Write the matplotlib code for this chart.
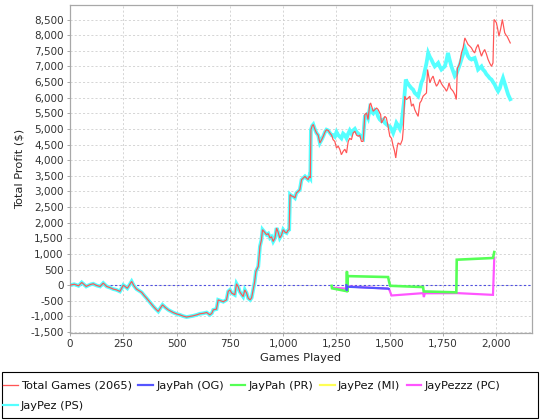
import matplotlib
matplotlib.use("Agg")
import matplotlib.pyplot as plt
from matplotlib.patches import Rectangle
from matplotlib.ticker import FuncFormatter, MultipleLocator

# ---------------- data ----------------
total_games = [0, 20, 40, 55, 76, 95, 109, 125, 141, 156, 172, 188, 203, 218, 234, 250, 260, 269, 280, 289,
               300, 312, 325, 336, 348, 359, 375, 391, 402, 414, 425, 434, 448, 461, 472, 484, 500, 516, 531, 547,
               562, 578, 594, 609, 625, 641, 656, 665, 672, 687, 695, 707, 719, 734, 742, 750, 758, 773, 781, 789,
               797, 805, 812, 820, 828, 836, 845, 852, 859, 866, 872, 883, 891, 898, 903, 912, 922, 930, 938, 945,
               953, 961, 969, 976, 984, 992, 1000, 1008, 1016, 1022, 1028, 1032, 1040, 1047, 1055, 1062, 1070, 1078,
               1086, 1094, 1102, 1110, 1117, 1122, 1127, 1130, 1136, 1141, 1148, 1156, 1164, 1172, 1180, 1188, 1196,
               1203, 1211, 1219, 1227, 1234, 1242, 1250, 1258, 1266, 1273, 1281, 1289, 1297, 1305, 1312, 1320, 1328,
               1336, 1344, 1352, 1359, 1367, 1375, 1383, 1391, 1398, 1406, 1410, 1422, 1430, 1438, 1445, 1457, 1461,
               1470, 1477, 1484, 1492, 1500, 1508, 1516, 1522, 1528, 1534, 1539, 1550, 1559, 1563, 1570, 1578, 1586,
               1594, 1602, 1610, 1617, 1625, 1633, 1641, 1648, 1656, 1664, 1672, 1677, 1682, 1688, 1695, 1703, 1711,
               1719, 1727, 1734, 1742, 1750, 1758, 1766, 1772, 1778, 1785, 1797, 1805, 1812, 1817, 1822, 1828, 1836,
               1844, 1852, 1860, 1867, 1875, 1883, 1890, 1898, 1906, 1914, 1922, 1930, 1937, 1945, 1953, 1961, 1969,
               1977, 1984, 1989, 1995, 2000, 2006, 2012, 2020, 2028, 2033, 2039, 2045, 2050, 2058, 2065]
total_profit = [0, 30, -20, 87, -40, 20, 45, -10, -40, 67, -40, -80, -125, -150, -200, 0, -50, -100, 20, 120,
                -20, -125, -180, -230, -330, -415, -550, -680, -760, -840, -720, -630, -720, -790, -830, -875, -920, -950, -990, -1020,
                -1000, -980, -950, -915, -900, -875, -950, -900, -790, -765, -470, -500, -530, -470, -200, -150, -250, -310, 45, -50,
                -220, -300, -365, -150, -250, -420, -470, -400, -150, 100, 440, 600, 1240, 1450, 1775, 1700, 1615, 1650, 1510, 1550,
                1400, 1500, 1830, 1700, 1510, 1600, 1775, 1700, 1670, 1750, 1775, 2900, 2850, 2840, 2790, 2950, 3000, 3055,
                3375, 3430, 3480, 3420, 3375, 3480, 3430, 4975, 5100, 5140, 5000, 4870, 4800, 4550, 4650, 4765, 4900,
                4975, 4950, 4870, 4800, 4655, 4600, 4390, 4450, 4335, 4175, 4280, 4350, 4230, 4600, 4700, 4655, 4870,
                4925, 4800, 4765, 4800, 4600, 4600, 5460, 5510, 5300, 5780, 5830, 5565, 5620, 5670, 5620, 5460, 5190,
                5300, 5400, 5350, 5080, 4765, 4700, 4445, 4300, 4070, 4400, 4550, 4500, 4655, 4975, 6045, 5935, 5990,
                6045, 5725, 5800, 5620, 5500, 5400, 5830, 5900, 6045, 6100, 6150, 6900, 6700, 6475, 6600, 6690, 6500,
                6365, 6450, 6580, 6450, 6365, 6300, 6205, 6300, 6475, 6300, 6205, 6100, 5940, 6950, 7000, 7110, 7430,
                7600, 7910, 7800, 7700, 7650, 7590, 7500, 7430, 7600, 7700, 7500, 7325, 7450, 7540, 7400, 7220, 7100,
                7000, 7110, 8500, 8450, 8395, 8200, 7965, 8200, 8500, 8300, 8075, 8000, 7965, 7850, 7750]

# JayPez (PS) follows the total line up to game 1227, then separates
ps_split_game = 1227
ps_games_late = [1234, 1242, 1250, 1258, 1266, 1273, 1281, 1289, 1297, 1305, 1312, 1320, 1328, 1336, 1344, 1352,
                 1359, 1367, 1375, 1383, 1391, 1398, 1406, 1414, 1422, 1430, 1438, 1445, 1453, 1461, 1470, 1477,
                 1484, 1492, 1500, 1508, 1516, 1523, 1531, 1539, 1547, 1555, 1566, 1575, 1584, 1594, 1602, 1609,
                 1617, 1625, 1633, 1641, 1648, 1656, 1664, 1672, 1680, 1688, 1695, 1703, 1711, 1719, 1727, 1734,
                 1742, 1750, 1758, 1766, 1773, 1781, 1789, 1797, 1805, 1812, 1820, 1828, 1836, 1844, 1852, 1860,
                 1867, 1875, 1883, 1890, 1898, 1906, 1914, 1922, 1930, 1937, 1945, 1953, 1961, 1969, 1977, 1984,
                 1992, 2000, 2008, 2016, 2023, 2031, 2039, 2047, 2055, 2062, 2065]
ps_profit_late = [4800, 4750, 4900, 4800, 4750, 4700, 4850, 4800, 4700, 4850, 4950, 4850, 4950, 5000, 4900, 4850,
                  4800, 4750, 4700, 5400, 5450, 5350, 5650, 5550, 5500, 5600, 5550, 5400, 5300, 5250, 5300, 5190,
                  5150, 5100, 5080, 5000, 4870, 5000, 5190, 5100, 5000, 5190, 5830, 6580, 6450, 6365, 6300, 6260,
                  6150, 6100, 6045, 6250, 6475, 6600, 6845, 7100, 7430, 7300, 7220, 7100, 7000, 7050, 7110, 7000,
                  6900, 6950, 7000, 7200, 7430, 7200, 7000, 6850, 6690, 6750, 6900, 7050, 7220, 7400, 7590, 7450,
                  7325, 7250, 7220, 7250, 7270, 7100, 6900, 6950, 7000, 6900, 6845, 6750, 6690, 6620, 6580, 6500,
                  6420, 6300, 6205, 6300, 6475, 6630, 6450, 6260, 6100, 5990, 5950]

og_games = [1296, 1298, 1300, 1492, 1495]
og_profit = [0, -170, -50, -110, -120]

pr_games = [1227, 1229, 1297, 1299, 1301, 1303, 1492, 1497, 1502, 1656, 1659, 1812, 1814, 1984, 1990]
pr_profit = [-20, -100, -190, 440, -220, 290, 260, 100, -20, -60, -200, -230, 815, 870, 1060]

mi_games = []
mi_profit = []

pc_games = [1232, 1296, 1298, 1492, 1497, 1508, 1656, 1660, 1664, 1820, 1984, 1990]
pc_profit = [-80, -110, -40, -110, -130, -330, -255, -380, -260, -255, -310, 880]

labels = ["Total Games (2065)", "JayPah (OG)", "JayPah (PR)", "JayPez (MI)", "JayPezzz (PC)", "JayPez (PS)"]
colors = ["#FF5555", "#5555FF", "#55FF55", "#FFFF55", "#FF55FF", "#55FFFF"]

# build PS series
ps_games = [g for g in total_games if g <= ps_split_game] + ps_games_late
ps_profit = [v for g, v in zip(total_games, total_profit) if g <= ps_split_game] + ps_profit_late

# ---------------- figure ----------------
W, H = 540, 420
fig = plt.figure(figsize=(W / 100, H / 100), dpi=100)
fig.patch.set_facecolor("white")
left, right, top, bottom = 70, 532, 4.5, 333
ax = fig.add_axes([left / W, 1 - bottom / H, (right - left) / W, (bottom - top) / H])
ax.set_facecolor("white")

px = 0.72  # points per pixel
series = [
    (ps_games, ps_profit, colors[5], 3.8 * px, 1),
    (pc_games, pc_profit, colors[4], 2.2 * px, 2),
    (mi_games, mi_profit, colors[3], 2.2 * px, 3),
    (pr_games, pr_profit, colors[2], 2.6 * px, 4),
    (og_games, og_profit, colors[1], 2.2 * px, 5),
    (total_games, total_profit, colors[0], 1.2 * px, 6),
]
handles = {}
for (g, v, c, lw, z), lab in zip(series, [labels[5], labels[4], labels[3], labels[2], labels[1], labels[0]]):
    ln, = ax.plot(g, v, color=c, lw=lw, zorder=z, solid_joinstyle="miter")
    handles[lab] = ln

ax.axhline(0, color="#5050e0", lw=0.8, dashes=(2, 2), zorder=0.8)

ax.set_xlim(0, 2167)
ax.set_ylim(-1530, 8980)
ax.xaxis.set_major_locator(MultipleLocator(250))
ax.yaxis.set_major_locator(MultipleLocator(500))
fmt = FuncFormatter(lambda x, p: f"{int(round(x)):,}")
ax.xaxis.set_major_formatter(fmt)
ax.yaxis.set_major_formatter(fmt)
ax.grid(True, color="#cfcfcf", lw=0.6, dashes=(2.5, 2.5), zorder=0.5)
ax.set_axisbelow(True)
for s in ax.spines.values():
    s.set_color("#a8a8a8")
    s.set_linewidth(0.9)
ax.tick_params(axis="both", colors="#a8a8a8", length=2.5, width=0.7, labelsize=7.5,
               labelcolor="#333333", pad=2)

ax.set_xlabel("Games Played", fontsize=8.2, color="#222222", labelpad=3)
ax.set_ylabel("Total Profit ($)", fontsize=8.2, color="#222222", labelpad=4)

# legend box
fig.patches.append(Rectangle((2 / W, 1 - 418 / H), 536 / W, 46 / H, transform=fig.transFigure,
                             fill=False, edgecolor="black", lw=0.8))
leg_order = [labels[0], labels[5], labels[1], labels[2], labels[3], labels[4]]
leg_handles = []
for lab in leg_order:
    h = handles[lab]
    leg_handles.append(plt.Line2D([], [], color=h.get_color(),
                                  lw=(1.3 if lab == labels[0] else 2.2) * px))
fig.legend(leg_handles, leg_order, loc="upper left", bbox_to_anchor=(3 / W, 1 - 381 / H),
           ncol=5, frameon=False, fontsize=8.2, handlelength=1.3, handletextpad=0.25,
           columnspacing=0.6, borderaxespad=0, borderpad=0.0, labelspacing=0.85,
           labelcolor="#111111")

fig.savefig("out.png", dpi=100)
